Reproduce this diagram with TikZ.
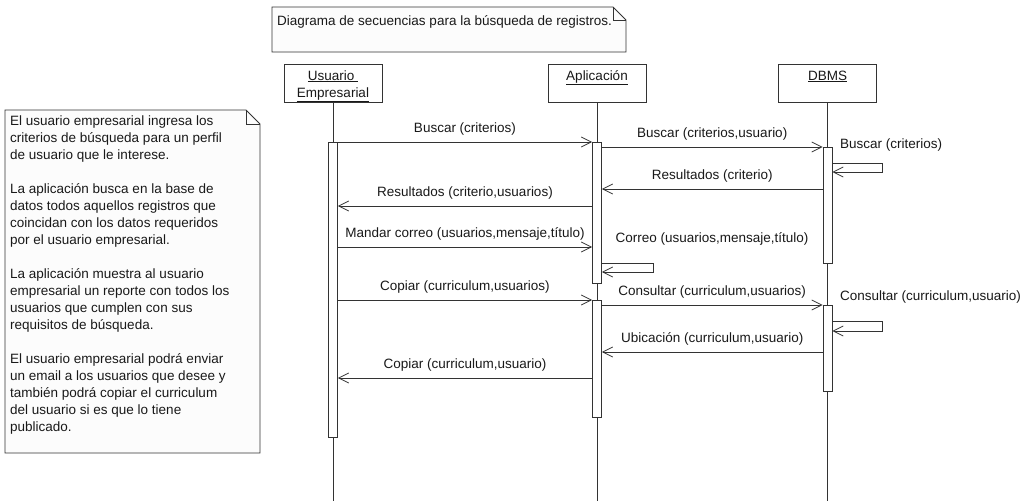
\documentclass[tikz,border=0pt]{standalone}
\usepackage{fontspec}
\setmainfont{Liberation Sans}
\usetikzlibrary{arrows.meta}
\begin{document}
\begin{tikzpicture}[x=1pt,y=-1pt,
  every node/.style={font=\fontsize{13.5}{17}\selectfont, inner sep=0pt, text=black!90},
  ln/.style={draw=black!80, line width=0.8pt},
  part/.style={ln, fill=white, minimum width=98pt, minimum height=38pt, anchor=north},
  actbar/.style={ln, fill=white, minimum width=9pt, anchor=north},
  msg/.style={ln, -{Straight Barb[length=10pt,width=10pt]}},
  lbl/.style={midway, anchor=base, yshift=9.5pt},
  notebox/.style={ln, fill=black!1},
]
\useasboundingbox (0,0) rectangle (1020,501);
\fill[white] (0,0) rectangle (1020,501);

% title note
\draw[notebox] (272,7) -- (613,7) -- (626,20) -- (626,52) -- (272,52) -- cycle;
\draw[ln] (613,7) -- (613,20) -- (626,20);
\node[anchor=base west] (title) at (277,25) {Diagrama de secuencias para la búsqueda de registros.};

% left note
\draw[notebox] (5,110) -- (246,110) -- (260,124) -- (260,453) -- (5,453) -- cycle;
\draw[ln] (246,110) -- (246,124) -- (260,124);
\node[anchor=north west, align=left] (note) at (10,115.5) {%
El usuario empresarial ingresa los\\
criterios de búsqueda para un perfil\\
de usuario que le interese.\\[17pt]
La aplicación busca en la base de\\
datos todos aquellos registros que\\
coincidan con los datos requeridos\\
por el usuario empresarial.\\[17pt]
La aplicación muestra al usuario\\
empresarial un reporte con todos los\\
usuarios que cumplen con sus\\
requisitos de búsqueda.\\[17pt]
El usuario empresarial podrá enviar\\
un email a los usuarios que desee y\\
también podrá copiar el curriculum\\
del usuario si es que lo tiene\\
publicado.};

% participants
\coordinate (bot) at (0,501);
\node[part] (pu) at (333,64) {};
\node[part] (pa) at (597,64) {};
\node[part] (pd) at (827.5,64) {};
\node[anchor=base] (tu1) at (333,80) {\underline{Usuario\ }};
\node[anchor=base] (tu2) at (333,97) {\underline{Empresarial}};
\node[anchor=base] (ta) at (597,80) {\underline{Aplicación}};
\node[anchor=base] (td) at (827.5,80) {\underline{DBMS}};

% lifelines
\draw[ln] (pu.south) -- (pu.south |- bot);
\draw[ln] (pa.south) -- (pa.south |- bot);
\draw[ln] (pd.south) -- (pd.south |- bot);

% activation bars
\node[actbar, minimum height=295pt] (ub) at (333,142) {};
\node[actbar, minimum height=141pt] (ab1) at (597,142) {};
\node[actbar, minimum height=117pt] (ab2) at (597,300) {};
\node[actbar, minimum height=116pt] (db1) at (827.5,147) {};
\node[actbar, minimum height=86pt] (db2) at (827.5,305) {};

% message levels
\coordinate (y1) at (0,142);
\coordinate (y2) at (0,147);
\coordinate (y3a) at (0,163);
\coordinate (y3b) at (0,172);
\coordinate (y4) at (0,189);
\coordinate (y5) at (0,206);
\coordinate (y6) at (0,247);
\coordinate (y7a) at (0,263);
\coordinate (y7b) at (0,272);
\coordinate (y8) at (0,300);
\coordinate (y9) at (0,305);
\coordinate (y10a) at (0,321);
\coordinate (y10b) at (0,331);
\coordinate (y11) at (0,352);
\coordinate (y12) at (0,378);

% messages
\draw[msg] (ub.east |- y1) -- node[lbl]{Buscar (criterios)} (ab1.west |- y1);
\draw[msg] (ab1.east |- y2) -- node[lbl]{Buscar (criterios,usuario)} (db1.west |- y2);
\draw[msg] (db1.east |- y3a) -- ++(50,0) |- (db1.east |- y3b);
\node[anchor=base west] (l3) at (840,148) {Buscar (criterios)};
\draw[msg] (db1.west |- y4) -- node[lbl]{Resultados (criterio)} (ab1.east |- y4);
\draw[msg] (ab1.west |- y5) -- node[lbl]{Resultados (criterio,usuarios)} (ub.east |- y5);
\draw[msg] (ub.east |- y6) -- node[lbl]{Mandar correo (usuarios,mensaje,título)} (ab1.west |- y6);
\draw[msg] (ab1.east |- y7a) -- ++(51,0) |- (ab1.east |- y7b);
\node[anchor=base] (l7) at (712,242.5) {Correo (usuarios,mensaje,título)};
\draw[msg] (ub.east |- y8) -- node[lbl]{Copiar (curriculum,usuarios)} (ab2.west |- y8);
\draw[msg] (ab2.east |- y9) -- node[lbl]{Consultar (curriculum,usuarios)} (db2.west |- y9);
\draw[msg] (db2.east |- y10a) -- ++(50,0) |- (db2.east |- y10b);
\node[anchor=base west] (l10) at (840,300.5) {Consultar (curriculum,usuario)};
\draw[msg] (db2.west |- y11) -- node[lbl]{Ubicación (curriculum,usuario)} (ab2.east |- y11);
\draw[msg] (ab2.west |- y12) -- node[lbl]{Copiar (curriculum,usuario)} (ub.east |- y12);
\end{tikzpicture}
\end{document}
